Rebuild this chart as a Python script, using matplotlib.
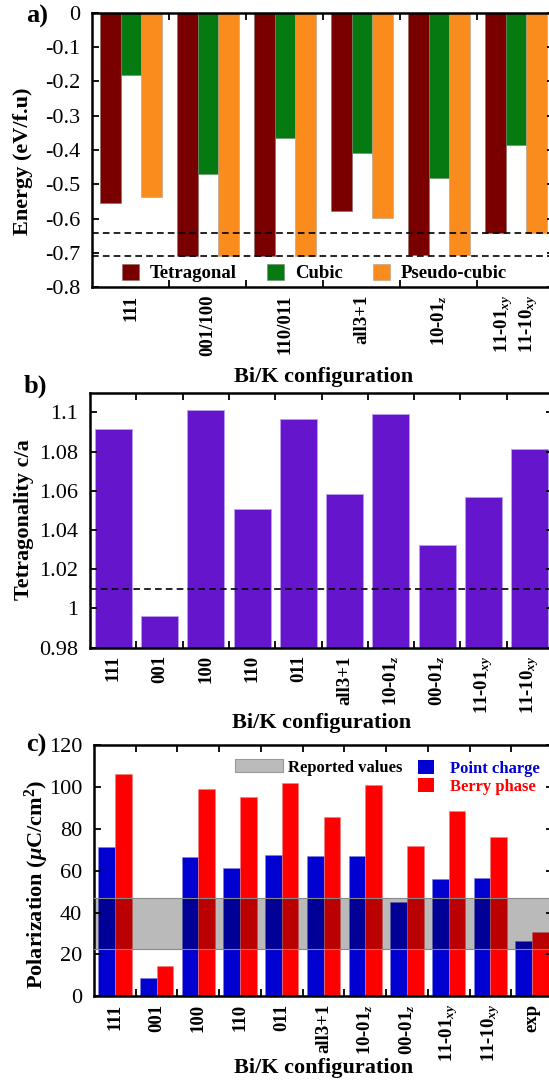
import matplotlib
matplotlib.use("Agg")
import matplotlib.pyplot as plt
from matplotlib.patches import Patch
import numpy as np

# ---------------- data ----------------
# panel a
a_labels = ['111', '001/100', '110/011', 'all3+1', '10-01$_z$', '11-01$_{xy}$', '11-10$_{xy}$']
a_tetragonal = [-0.553, -0.708, -0.708, -0.578, -0.705, -0.641]
a_cubic = [-0.182, -0.469, -0.364, -0.410, -0.482, -0.385]
a_pseudo = [-0.536, -0.708, -0.708, -0.599, -0.705, -0.641]
a_ref_lines = [-0.642, -0.710]

# panel b
b_labels = ['111', '001', '100', '110', '011', 'all3+1', '10-01$_z$', '00-01$_z$',
            '11-01$_{xy}$', '11-10$_{xy}$']
b_ca = [1.0913, 0.9961, 1.1011, 1.0508, 1.0966, 1.0585, 1.0990, 1.0323, 1.0570, 1.0814]
b_ref_line = 1.01

# panel c
c_labels = ['111', '001', '100', '110', '011', 'all3+1', '10-01$_z$', '00-01$_z$',
            '11-01$_{xy}$', '11-10$_{xy}$', 'exp']
c_point = [71.3, 8.9, 66.4, 61.4, 67.5, 67.2, 67.2, 45.0, 56.0, 56.3, 26.4]
c_berry = [106.0, 14.6, 98.8, 95.2, 101.9, 85.8, 100.9, 71.9, 88.5, 75.9, 30.8]
c_reported = [22.6, 46.8]

# ---------------- style ----------------
plt.rcParams['font.family'] = ['Liberation Serif', 'DejaVu Serif']
plt.rcParams['axes.unicode_minus'] = False
plt.rcParams['mathtext.fontset'] = 'custom'
plt.rcParams['mathtext.rm'] = 'Liberation Serif:bold'
plt.rcParams['mathtext.bf'] = 'Liberation Serif:bold'
plt.rcParams['mathtext.it'] = 'Liberation Serif:italic:bold'

C_TET = '#7A0000'
C_CUB = '#047A10'
C_PSE = '#FA8C1E'
C_PUR = '#6516CC'
C_BLUE = '#0000D0'
C_RED = '#FF0000'

TICK_FS = 16
XT_FS = 13.5
LAB_FS = 16

fig = plt.figure(figsize=(5.49, 10.84), dpi=100)
W, H = 549.0, 1084.0


def add_axes_px(left, right, top, bottom):
    return fig.add_axes([left / W, 1 - bottom / H, (right - left) / W, (bottom - top) / H])


def style_axes(ax, n_boundaries):
    for s in ax.spines.values():
        s.set_linewidth(1.8)
    ax.tick_params(axis='y', which='major', direction='in', length=5, width=1.3,
                   labelsize=TICK_FS, pad=8.5, left=True, right=True)
    ax.tick_params(axis='x', which='major', length=0, labelsize=XT_FS, pad=5.5)
    ax.set_xticks(np.arange(n_boundaries) + 0.5, minor=True)
    ax.tick_params(axis='x', which='minor', direction='in', length=5, width=1.3,
                   top=True, bottom=True)
    for t in ax.get_xticklabels():
        t.set_fontweight('bold')


# ---------------- panel a ----------------
axa = add_axes_px(92.3, 554.3, 12.7, 287.3)
xa = np.arange(len(a_tetragonal))
bw = 0.8 / 3
ba1 = axa.bar(xa - bw, a_tetragonal, bw, color=C_TET, edgecolor='#8a6a6a', linewidth=0.4, label='Tetragonal')
ba2 = axa.bar(xa, a_cubic, bw, color=C_CUB, edgecolor='#6a8a6a', linewidth=0.4, label='Cubic')
ba3 = axa.bar(xa + bw, a_pseudo, bw, color=C_PSE, edgecolor='#b0a090', linewidth=0.4, label='Pseudo-cubic')
for yv in a_ref_lines:
    axa.axhline(yv, color='black', linestyle=(0, (4, 2.5)), linewidth=1.2, zorder=3)
axa.set_xlim(-0.5, len(a_tetragonal) - 0.5)
axa.set_ylim(-0.8, 0)
axa.set_yticks(np.arange(0, 9) * -0.1)
axa.set_yticklabels(['0' if i == 0 else '-0.%d' % i for i in range(9)])
a_pos = list(xa[:-1]) + [xa[-1] - 0.16, xa[-1] + 0.16]
axa.set_xticks(a_pos)
axa.set_xticklabels(a_labels, rotation=90, va='top', ha='center')
style_axes(axa, len(a_tetragonal) - 1)
axa.set_xlabel('Bi/K configuration', fontsize=LAB_FS, fontweight='bold', va='center')
axa.xaxis.set_label_coords(0.5, -0.327)
axa.set_ylabel('Energy (eV/f.u)', fontsize=LAB_FS, fontweight='bold', va='center')
axa.yaxis.set_label_coords(-0.149, 0.458)
axa.legend(handles=[ba1, ba2, ba3], ncol=3, frameon=False, loc='center left',
           bbox_to_anchor=(0.064, 0.051), borderpad=0, borderaxespad=0,
           prop={'weight': 'bold', 'size': 13.5}, handlelength=0.9, handleheight=0.9,
           handletextpad=0.6, columnspacing=1.6)

# ---------------- panel b ----------------
axb = add_axes_px(90, 553, 393.5, 647.7)
xb = np.arange(len(b_ca))
axb.bar(xb, b_ca, 0.8, bottom=0, color=C_PUR, edgecolor='#b9a0f0', linewidth=0.6)
axb.axhline(b_ref_line, color='black', linestyle=(0, (4, 2.5)), linewidth=1.2, zorder=3)
axb.set_xlim(-0.5, len(b_ca) - 0.5)
axb.set_ylim(0.98, 1.1096)
bt = [0.98, 1.0, 1.02, 1.04, 1.06, 1.08, 1.1]
axb.set_yticks(bt)
axb.set_yticklabels(['%g' % v for v in bt])
axb.set_xticks(xb)
axb.set_xticklabels(b_labels, rotation=90, va='top', ha='center')
style_axes(axb, len(b_ca) - 1)
axb.set_xlabel('Bi/K configuration', fontsize=LAB_FS, fontweight='bold', va='center')
axb.xaxis.set_label_coords(0.5, -0.297)
axb.set_ylabel('Tetragonality c/a', fontsize=LAB_FS, fontweight='bold', va='center')
axb.yaxis.set_label_coords(-0.1436, 0.502)

# ---------------- panel c ----------------
axc = add_axes_px(94, 553, 745, 996.3)
xc = np.arange(len(c_point))
axc.bar(xc - 0.2, c_point, 0.4, color=C_BLUE, edgecolor='#8080e0', linewidth=0.4)
axc.bar(xc + 0.2, c_berry, 0.4, color=C_RED, edgecolor='#f08080', linewidth=0.4)
axc.axhspan(c_reported[0], c_reported[1], facecolor='black', alpha=0.27, edgecolor='none', zorder=3)
for yv in c_reported:
    axc.axhline(yv, color='#888888', linewidth=0.8, zorder=3)
axc.set_xlim(-0.5, len(c_point) - 0.5)
axc.set_ylim(0, 120)
axc.set_yticks(np.arange(0, 121, 20))
axc.set_xticks(xc)
axc.set_xticklabels(c_labels, rotation=90, va='top', ha='center')
style_axes(axc, len(c_point) - 1)
axc.set_xlabel('Bi/K configuration', fontsize=LAB_FS, fontweight='bold', va='center')
axc.xaxis.set_label_coords(0.5, -0.286)
axc.set_ylabel(r'Polarization ($\mu$C/cm$^2$)', fontsize=LAB_FS, fontweight='bold', va='center')
axc.yaxis.set_label_coords(-0.124, 0.447)

leg1 = axc.legend(handles=[Patch(facecolor='#BBBBBB', edgecolor='#999999', linewidth=0.8)],
                  labels=['Reported values'], frameon=False, loc='center left',
                  bbox_to_anchor=(0.307, 0.9105), borderpad=0, borderaxespad=0,
                  prop={'weight': 'bold', 'size': 12}, handlelength=2.9, handleheight=0.82,
                  handletextpad=0.3)
axc.add_artist(leg1)
axc.legend(handles=[Patch(facecolor=C_BLUE), Patch(facecolor=C_RED)],
           labels=['Point charge', 'Berry phase'], frameon=False, loc='upper left',
           bbox_to_anchor=(0.706, 0.940), borderpad=0, borderaxespad=0,
           prop={'weight': 'bold', 'size': 12}, handlelength=0.96, handleheight=0.9,
           handletextpad=0.96, labelspacing=0.1, labelcolor=[C_BLUE, C_RED])

# ---------------- panel letters ----------------
fig.text(26 / W, 1 - 16 / H, 'a)', fontsize=19, fontweight='bold', ha='left', va='center')
fig.text(24 / W, 1 - 386 / H, 'b)', fontsize=19, fontweight='bold', ha='left', va='center')
fig.text(26 / W, 1 - 745 / H, 'c)', fontsize=19, fontweight='bold', ha='left', va='center')

fig.savefig('out.png', dpi=100)
